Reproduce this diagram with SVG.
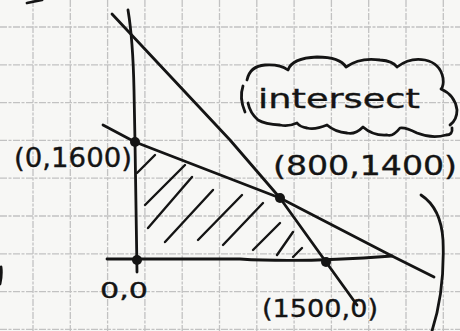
<svg xmlns="http://www.w3.org/2000/svg" width="460" height="331" viewBox="0 0 460 331">
<defs>
<style>
.grid{stroke:#c2c2c2;stroke-width:1.3;stroke-dasharray:7 1.5 3 1.5;fill:none}
.ink{stroke:#141414;stroke-width:2.8;fill:none;stroke-linecap:round;stroke-linejoin:round}
.hatch{stroke:#141414;stroke-width:2.4;fill:none;stroke-linecap:round}
.dot{fill:#141414}
.lbl{font-family:"DejaVu Sans","Liberation Sans",sans-serif;fill:#141414;stroke:#141414;stroke-width:0.35}
</style>
</defs>
<rect x="0" y="0" width="460" height="331" fill="#f7f7f5"/>
<g id="grid">
<path class="grid" d="M33,0V331M70.3,0V331M107.6,0V331M144.9,0V331M182.2,0V331M219.5,0V331M256.8,0V331M294.1,0V331M331.4,0V331M368.7,0V331M406,0V331M443.3,0V331"/>
<path class="grid" d="M0,27H460M0,64.8H460M0,102.6H460M0,140.4H460M0,178.2H460M0,216H460M0,253.8H460M0,291.6H460M0,329.4H460"/>
</g>
<g id="marks">
<path class="ink" d="M27,3 L42,0"/>
<path class="ink" d="M1,267 Q2,275 0,284"/>
</g>
<g id="hatching">
<path class="hatch" d="M137,173 L155,155 M145,205 L185,165 M148,228 L192,177 M165,242 L213,190 M198,240 L242,195 M223,245 L263,203 M253,250 L280,223 M277,255 L293,232 M293,257 L302,248"/>
</g>
<g id="connectors">
<path id="y-axis" class="ink" d="M128,10 Q133,40 134,90 L135,142 L137,272"/>
<path id="x-axis" class="ink" d="M107,259 L240,259 Q300,263 392,256"/>
<path id="line1" class="ink" d="M112,14 L230,140 L280,198 L326,262 L357,305"/>
<path id="line2" class="ink" d="M103,125 L135,142 L280,198 L392,256 L434,277"/>
<path id="arc" class="ink" d="M421,195 Q441,208 443,240 Q445,290 432,331"/>
</g>
<g id="points">
<circle class="dot" cx="135" cy="142" r="5"/>
<circle class="dot" cx="280" cy="198" r="5"/>
<circle class="dot" cx="326" cy="262" r="5"/>
<circle class="dot" cx="137" cy="260" r="5"/>
</g>
<g id="cloud">
<path class="ink" d="M243,86 Q239,98 245,112"/>
<path class="ink" d="M247,80 Q250,66 265,65 Q280,64 288,70 Q292,58 317,57 Q340,57 346,67 Q360,57 380,60 Q393,61 397,67 Q410,57 425,60 Q440,63 443,78 Q444,86 441,89 Q455,95 457,110 Q457,120 450,125"/>
<path class="ink" d="M452,128 Q453,135 446,135 Q432,139 417,133 Q405,127 400,128 Q393,137 387,135 Q373,136 363,127 Q355,135 347,133 Q335,132 327,125 Q315,130 307,128 Q300,127 297,123 Q288,127 280,125 Q265,124 258,120 Q250,113 248,103"/>
<text class="lbl" x="258" y="108" font-size="26" textLength="162" lengthAdjust="spacingAndGlyphs">intersect</text>
</g>
<g id="labels">
<text class="lbl" x="14" y="167" font-size="26" textLength="118" lengthAdjust="spacingAndGlyphs">(0,1600)</text>
<text class="lbl" x="273" y="175" font-size="27" textLength="184" lengthAdjust="spacingAndGlyphs">(800,1400)</text>
<text class="lbl" x="100" y="298" font-size="21" textLength="48" lengthAdjust="spacingAndGlyphs">0,0</text>
<text class="lbl" x="262" y="317" font-size="25" textLength="116" lengthAdjust="spacingAndGlyphs">(1500,0)</text>
</g>
</svg>
